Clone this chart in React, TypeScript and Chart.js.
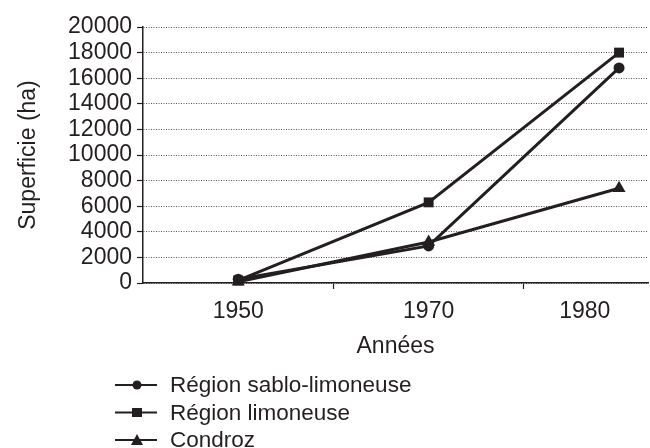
import React, { useEffect, useRef } from "react";
import { Chart, registerables } from "chart.js";

Chart.register(...registerables);

// ---- data ----
const categories: string[] = ["1950", "1970", "1980"];
const categoryPositions: number[] = [0, 1, 2];
const labelPositions: number[] = [0, 1, 1.82];
const separatorPositions: number[] = [0.5, 1.5];
const sabloLimoneuse: number[] = [300, 2900, 16800];
const limoneuse: number[] = [200, 6300, 18000];
const condroz: number[] = [100, 3200, 7400];
const seriesNames: string[] = ["Région sablo-limoneuse", "Région limoneuse", "Condroz"];
const yTicks: number[] = [0, 2000, 4000, 6000, 8000, 10000, 12000, 14000, 16000, 18000, 20000];
const xTitle = "Années";
const yTitle = "Superficie (ha)";

const INK = "#231f20";
const FONT = "'Liberation Sans', Arial, Helvetica, sans-serif";

const toPoints = (vals: number[]) => vals.map((v, i) => ({ x: categoryPositions[i], y: v }));

const legendPlugin = {
  id: "stackedLegend",
  afterDraw(chart: any) {
    const ctx = chart.ctx;
    const rows = [385, 412.5, 440];
    const x0 = 115, x1 = 157, mx = 137, tx = 170;
    ctx.save();
    chart.data.datasets.forEach((ds: any, i: number) => {
      const y = rows[i];
      ctx.strokeStyle = INK;
      ctx.lineWidth = 2.2;
      ctx.beginPath();
      ctx.moveTo(x0, y);
      ctx.lineTo(x1, y);
      ctx.stroke();
      ctx.fillStyle = INK;
      ctx.beginPath();
      const style = ds.pointStyle;
      if (style === "circle") {
        ctx.arc(mx, y, 4.5, 0, Math.PI * 2);
      } else if (style === "rect") {
        ctx.rect(mx - 5, y - 4.5, 10, 9);
      } else {
        ctx.moveTo(mx, y - 6);
        ctx.lineTo(mx + 6, y + 5);
        ctx.lineTo(mx - 6, y + 5);
        ctx.closePath();
      }
      ctx.fill();
      ctx.font = `22.5px ${FONT}`;
      ctx.textBaseline = "middle";
      ctx.textAlign = "left";
      ctx.fillText(ds.label, tx, y + 1);
    });
    ctx.restore();
  },
};

export default function App() {
  const canvasRef = useRef<HTMLCanvasElement | null>(null);

  useEffect(() => {
    if (!canvasRef.current) return;
    const lineDs = (label: string, data: number[], pointStyle: string, radius: number) => ({
      label,
      data: toPoints(data),
      borderColor: INK,
      backgroundColor: INK,
      borderWidth: 3,
      pointStyle,
      pointRadius: radius,
      pointHoverRadius: radius,
      pointBorderWidth: 0,
      tension: 0,
      clip: false,
    });
    const chart = new Chart(canvasRef.current, {
      type: "line",
      data: {
        datasets: [
          lineDs(seriesNames[0], sabloLimoneuse, "circle", 5.5),
          lineDs(seriesNames[1], limoneuse, "rect", 7),
          lineDs(seriesNames[2], condroz, "triangle", 7.5),
        ],
      },
      options: {
        animation: false,
        responsive: false,
        layout: { autoPadding: false, padding: { top: 27, right: 2, left: 0, bottom: 88 } },
        plugins: {
          legend: { display: false },
          tooltip: { enabled: false },
        },
        scales: {
          x: {
            type: "linear",
            min: -0.5,
            max: 2.152,
            afterBuildTicks: (scale: any) => {
              scale.ticks = [...labelPositions, ...separatorPositions]
                .sort((a, b) => a - b)
                .map((v) => ({ value: v }));
            },
            afterFit: (scale: any) => {
              scale.height = 77;
              scale.paddingLeft = 0;
              scale.paddingRight = 0;
            },
            ticks: {
              autoSkip: false,
              maxRotation: 0,
              padding: 9,
              color: INK,
              font: { family: FONT, size: 23 },
              callback: (v: any) => {
                const idx = labelPositions.indexOf(Number(v));
                return idx >= 0 ? categories[idx] : "";
              },
            },
            grid: {
              drawOnChartArea: false,
              drawTicks: true,
              tickLength: 6,
              tickWidth: 1.2,
              tickColor: (c: any) =>
                c.tick && separatorPositions.includes(c.tick.value) ? INK : "rgba(0,0,0,0)",
            },
            border: { display: true, color: INK, width: 1.5 },
            title: {
              display: true,
              text: xTitle,
              color: INK,
              font: { family: FONT, size: 23 },
              padding: { top: 0, bottom: 0 },
            },
          },
          y: {
            type: "linear",
            min: 0,
            max: 20000,
            afterBuildTicks: (scale: any) => {
              scale.ticks = yTicks.map((v) => ({ value: v }));
            },
            afterFit: (scale: any) => {
              scale.width = 143;
            },
            ticks: {
              autoSkip: false,
              padding: 5,
              color: INK,
              font: { family: FONT, size: 23 },
              callback: (v: any) => String(v),
            },
            grid: {
              color: "#555",
              lineWidth: 1,
              drawTicks: true,
              tickLength: 6,
              tickColor: INK,
              tickWidth: 1.2,
            },
            border: { display: true, color: INK, width: 1.5, dash: [1, 1.5] },
            title: {
              display: true,
              text: yTitle,
              color: INK,
              font: { family: FONT, size: 23 },
              padding: { top: 15, bottom: 0 },
            },
          },
        },
      } as any,
      plugins: [legendPlugin],
    });
    return () => chart.destroy();
  }, []);

  return (
    <div style={{ position: "fixed", left: 0, top: 0, width: 650, height: 448, background: "#fff" }}>
      <canvas ref={canvasRef} width={650} height={448} style={{ display: "block" }} />
    </div>
  );
}
